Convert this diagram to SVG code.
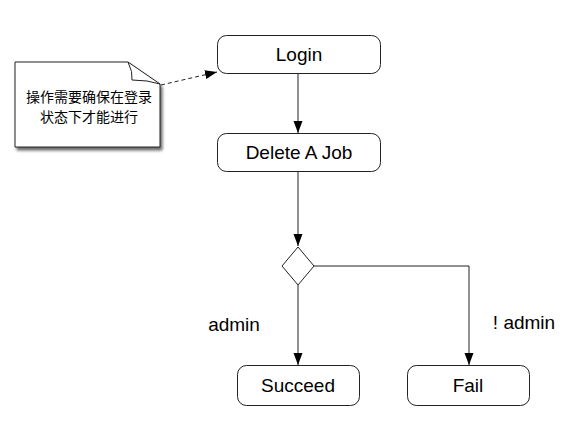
<svg xmlns="http://www.w3.org/2000/svg" width="578" height="440" viewBox="0 0 578 440">
<style>
.box{fill:#fff;stroke:#222;stroke-width:1}
.t{font-family:"Liberation Sans",Arial,sans-serif;font-size:19px;fill:#000;text-anchor:middle}
.c{font-family:"Noto Sans CJK SC",sans-serif;font-size:14px;fill:#000;text-anchor:middle}
.e{fill:none;stroke:#222;stroke-width:1}
</style>
<defs>
<marker id="ar" viewBox="0 0 12 10" refX="12" refY="5" markerWidth="12" markerHeight="10" markerUnits="userSpaceOnUse" orient="auto"><path d="M0,0.5 L12,5 L0,9.5 Z" fill="#000"/></marker>
<filter id="sh" x="-10%" y="-10%" width="130%" height="130%"><feGaussianBlur in="SourceAlpha" stdDeviation="1.5"/><feOffset dx="2" dy="3"/><feComponentTransfer><feFuncA type="linear" slope="0.6"/></feComponentTransfer><feMerge><feMergeNode/><feMergeNode in="SourceGraphic"/></feMerge></filter>
</defs>
<rect width="578" height="440" fill="#fff"/>
<g id="edges">
<path class="e" d="M298,73 L298,133" marker-end="url(#ar)"/>
<path class="e" d="M298,172 L298,246" marker-end="url(#ar)"/>
<path class="e" d="M298,285 L298,365" marker-end="url(#ar)"/>
<path class="e" d="M313,266 L469,266 L469,365" marker-end="url(#ar)"/>
<path class="e" d="M161,85 L217,72" stroke-dasharray="4,3" marker-end="url(#ar)"/>
<text class="t" x="234" y="331">admin</text>
<text class="t" x="524" y="329">! admin</text>
</g>
<g id="note">
<path d="M15,62 L128,62 L160,84 L160,147 L15,147 Z" fill="#fff" stroke="#222" filter="url(#sh)"/>
<path d="M128,62 Q133,72 132,80 Q148,80 160,84" fill="none" stroke="#222"/>
<text class="c" x="89" y="102">操作需要确保在登录</text>
<text class="c" x="89" y="122">状态下才能进行</text>
</g>
<g id="login"><rect class="box" x="217.5" y="35.5" width="163" height="38" rx="9"/><text class="t" x="299" y="61">Login</text></g>
<g id="delete"><rect class="box" x="217.5" y="133.5" width="163" height="38" rx="9"/><text class="t" x="299" y="159">Delete A Job</text></g>
<g id="decision"><path class="box" d="M298,247 L314,266 L298,285 L282,266 Z"/></g>
<g id="succeed"><rect class="box" x="237.5" y="365.5" width="122" height="40" rx="9"/><text class="t" x="298" y="392">Succeed</text></g>
<g id="fail"><rect class="box" x="407.5" y="365.5" width="122" height="40" rx="9"/><text class="t" x="468" y="392">Fail</text></g>
</svg>
